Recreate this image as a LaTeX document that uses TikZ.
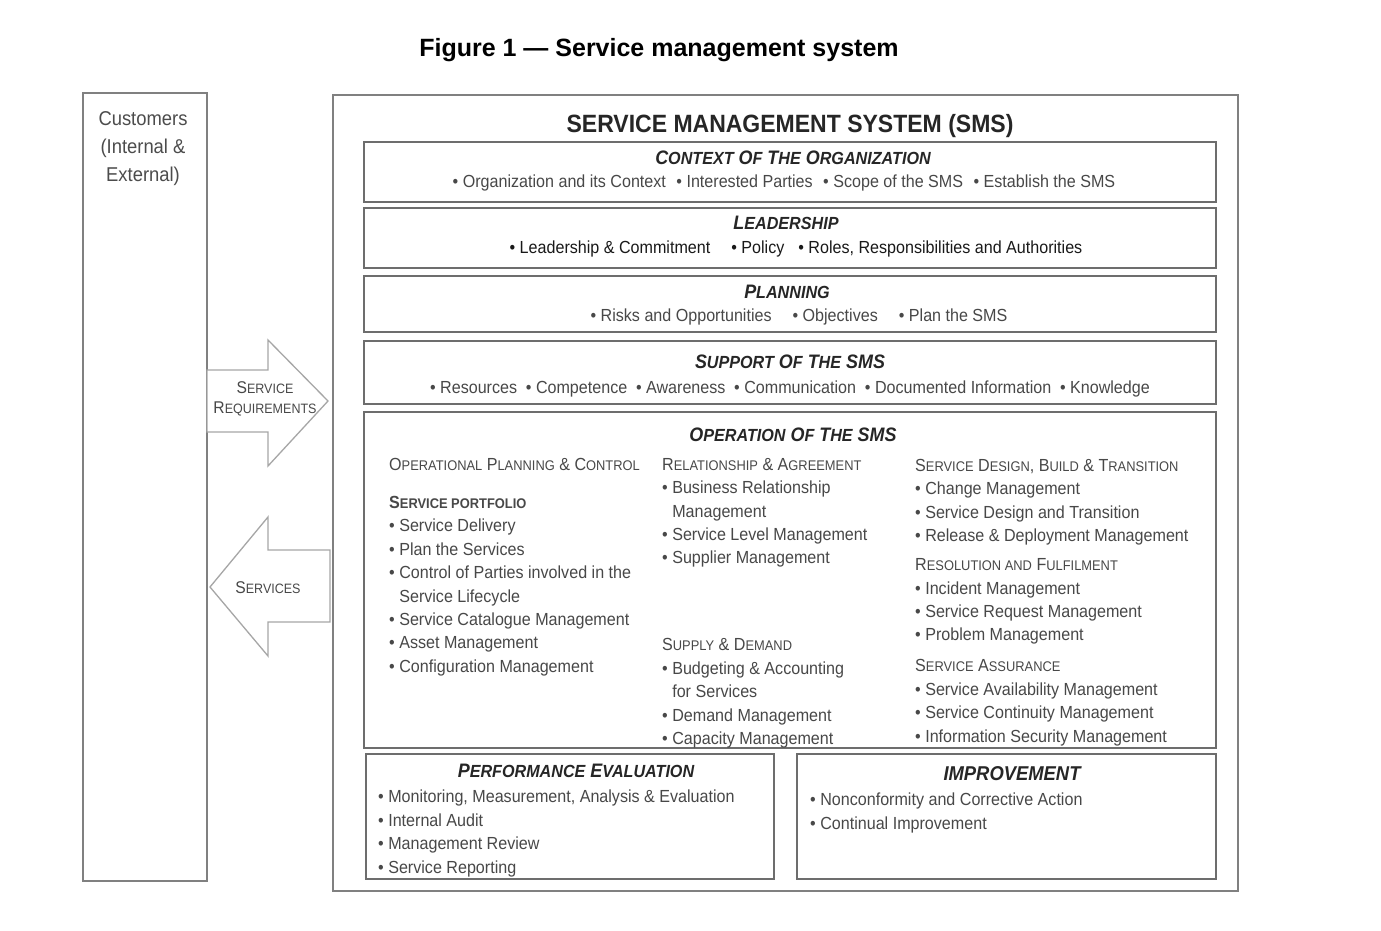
\documentclass[tikz,border=0pt]{standalone}
\usepackage{fontspec}
\setmainfont[FakeStretch=0.92]{Liberation Sans}
\newfontfamily\figfont{Liberation Sans}
\usepackage{graphicx}
\usetikzlibrary{positioning}

\definecolor{boxgray}{RGB}{128,128,128}
\definecolor{txtgray}{RGB}{72,72,72}
\newcommand\lowcap[1]{\scalebox{0.8}{#1}}
\newcommand\headcap[1]{\scalebox{0.9}{#1}}
\newcommand\bul{\textbullet\ }
\newcommand\hang{\phantom{\textbullet\ }}

\begin{document}
\begin{tikzpicture}[
    x=1pt, y=-1pt,
    outerbox/.style={draw=boxgray, line width=2pt, anchor=north west, inner sep=0},
    secbox/.style={draw=boxgray!85!black, line width=2.2pt, anchor=north west, inner sep=0},
    head/.style={font=\fontsize{19.5}{22}\selectfont\bfseries\itshape, text=black!85, anchor=base, inner sep=0},
    items/.style={font=\fontsize{17.5}{23.4}\selectfont, text=txtgray, anchor=base, inner sep=0},
    col/.style={font=\fontsize{17.5}{23.4}\selectfont, text=txtgray, align=left, anchor=north west, inner sep=0},
    bigarrow/.style={draw=black!35, line width=1.3pt, fill=white}
]
\fill[white] (0,0) rectangle (1381,931);
\path[use as bounding box] (0,0) rectangle (1381,931);

% title
\node[font=\figfont\fontsize{25}{28}\selectfont\bfseries, anchor=base, inner sep=0] (figtitle) at (659,57) {Figure 1 — Service management system};

% customers
\node[outerbox, minimum width=124, minimum height=788] (cust) at (82,92) {};
\node[font=\fontsize{20}{28}\selectfont, text=black!70, align=center, anchor=north, inner sep=0] (custtext) at (143,111) {Customers\\(Internal \&\\External)};

% sms frame
\node[outerbox, minimum width=905, minimum height=796] (sms) at (332,94) {};
\node[font=\fontsize{25}{30}\selectfont\bfseries, text=black!85, anchor=base, inner sep=0] (smstitle) at (790,133) {SERVICE MANAGEMENT SYSTEM (SMS)};

% arrows between customers and sms
\draw[bigarrow] (207,370) -- (268,370) -- (268,340) -- (328,401) -- (268,466) -- (268,432) -- (207,432) -- cycle;
\node[font=\fontsize{17}{20}\selectfont, text=txtgray, align=center, inner sep=0] (reqtext) at (265,399) {S\lowcap{ERVICE}\\R\lowcap{EQUIREMENTS}};
\draw[bigarrow] (330,550) -- (268,550) -- (268,517) -- (210,587) -- (268,656) -- (268,622) -- (330,622) -- cycle;
\node[font=\fontsize{17}{20}\selectfont, text=txtgray, inner sep=0] (srvtext) at (268,588) {S\lowcap{ERVICES}};

% context
\node[secbox, minimum width=852, minimum height=60] (ctx) at (363,141) {};
\node[head] (ctxhead) at (793,164.5) {C\headcap{ONTEXT} O\headcap{F} T\headcap{HE} O\headcap{RGANIZATION}};
\node[items] (ctxitems) at (784,187) {\bul Organization and its Context\hspace{0.6em}\bul Interested Parties\hspace{0.6em}\bul Scope of the SMS\hspace{0.6em}\bul Establish the SMS};

% leadership
\node[secbox, minimum width=852, minimum height=60] (lead) at (363,207) {};
\node[head] (leadhead) at (786,229.5) {L\headcap{EADERSHIP}};
\node[items, text=black!90] (leaditems) at (796,253) {\bul Leadership \& Commitment\hspace{1.2em}\bul Policy\hspace{0.8em}\bul Roles, Responsibilities and Authorities};

% planning
\node[secbox, minimum width=852, minimum height=56] (plan) at (363,275) {};
\node[head] (planhead) at (787,298.5) {P\headcap{LANNING}};
\node[items] (planitems) at (799,321) {\bul Risks and Opportunities\hspace{1.2em}\bul Objectives\hspace{1.2em}\bul Plan the SMS};

% support
\node[secbox, minimum width=852, minimum height=63] (supp) at (363,340) {};
\node[head] (supphead) at (790,368.5) {S\headcap{UPPORT} O\headcap{F} T\headcap{HE} SMS};
\node[items] (suppitems) at (790,393) {\bul Resources\hspace{0.5em}\bul Competence\hspace{0.5em}\bul Awareness\hspace{0.5em}\bul Communication\hspace{0.5em}\bul Documented Information\hspace{0.5em}\bul Knowledge};

% operation
\node[secbox, minimum width=852, minimum height=336] (oper) at (363,411) {};
\node[head] (operhead) at (793,441.5) {O\headcap{PERATION} O\headcap{F} T\headcap{HE} SMS};
\node[col] (opcolA) at (389,458) {O\lowcap{PERATIONAL} P\lowcap{LANNING} \& C\lowcap{ONTROL}\\[14.6pt]
  \textbf{S\lowcap{ERVICE PORTFOLIO}}\\
  \bul Service Delivery\\
  \bul Plan the Services\\
  \bul Control of Parties involved in the\\
  \hang Service Lifecycle\\
  \bul Service Catalogue Management\\
  \bul Asset Management\\
  \bul Configuration Management};
\node[col] (opcolB) at (662,458) {R\lowcap{ELATIONSHIP} \& A\lowcap{GREEMENT}\\
  \bul Business Relationship\\
  \hang Management\\
  \bul Service Level Management\\
  \bul Supplier Management\\[63.6pt]
  S\lowcap{UPPLY} \& D\lowcap{EMAND}\\
  \bul Budgeting \& Accounting\\
  \hang for Services\\
  \bul Demand Management\\
  \bul Capacity Management};
\node[col] (opcolC) at (915,459) {S\lowcap{ERVICE} D\lowcap{ESIGN}, B\lowcap{UILD} \& T\lowcap{RANSITION}\\
  \bul Change Management\\
  \bul Service Design and Transition\\
  \bul Release \& Deployment Management\\[5.6pt]
  R\lowcap{ESOLUTION AND} F\lowcap{ULFILMENT}\\
  \bul Incident Management\\
  \bul Service Request Management\\
  \bul Problem Management\\[7.6pt]
  S\lowcap{ERVICE} A\lowcap{SSURANCE}\\
  \bul Service Availability Management\\
  \bul Service Continuity Management\\
  \bul Information Security Management};

% performance evaluation
\node[secbox, line width=1.6pt, minimum width=408, minimum height=125] (perf) at (365,753) {};
\node[head] (perfhead) at (576,777.5) {P\headcap{ERFORMANCE} E\headcap{VALUATION}};
\node[col] (perfitems) at (378,790) {\bul Monitoring, Measurement, Analysis \& Evaluation\\
  \bul Internal Audit\\
  \bul Management Review\\
  \bul Service Reporting};

% improvement
\node[secbox, line width=1.6pt, minimum width=419, minimum height=125] (impr) at (796,753) {};
\node[head, font=\fontsize{20}{24}\selectfont\bfseries\itshape] (imprhead) at (1012,780) {IMPROVEMENT};
\node[col] (impritems) at (810,793) {\bul Nonconformity and Corrective Action\\
  \bul Continual Improvement};

\end{tikzpicture}
\end{document}
